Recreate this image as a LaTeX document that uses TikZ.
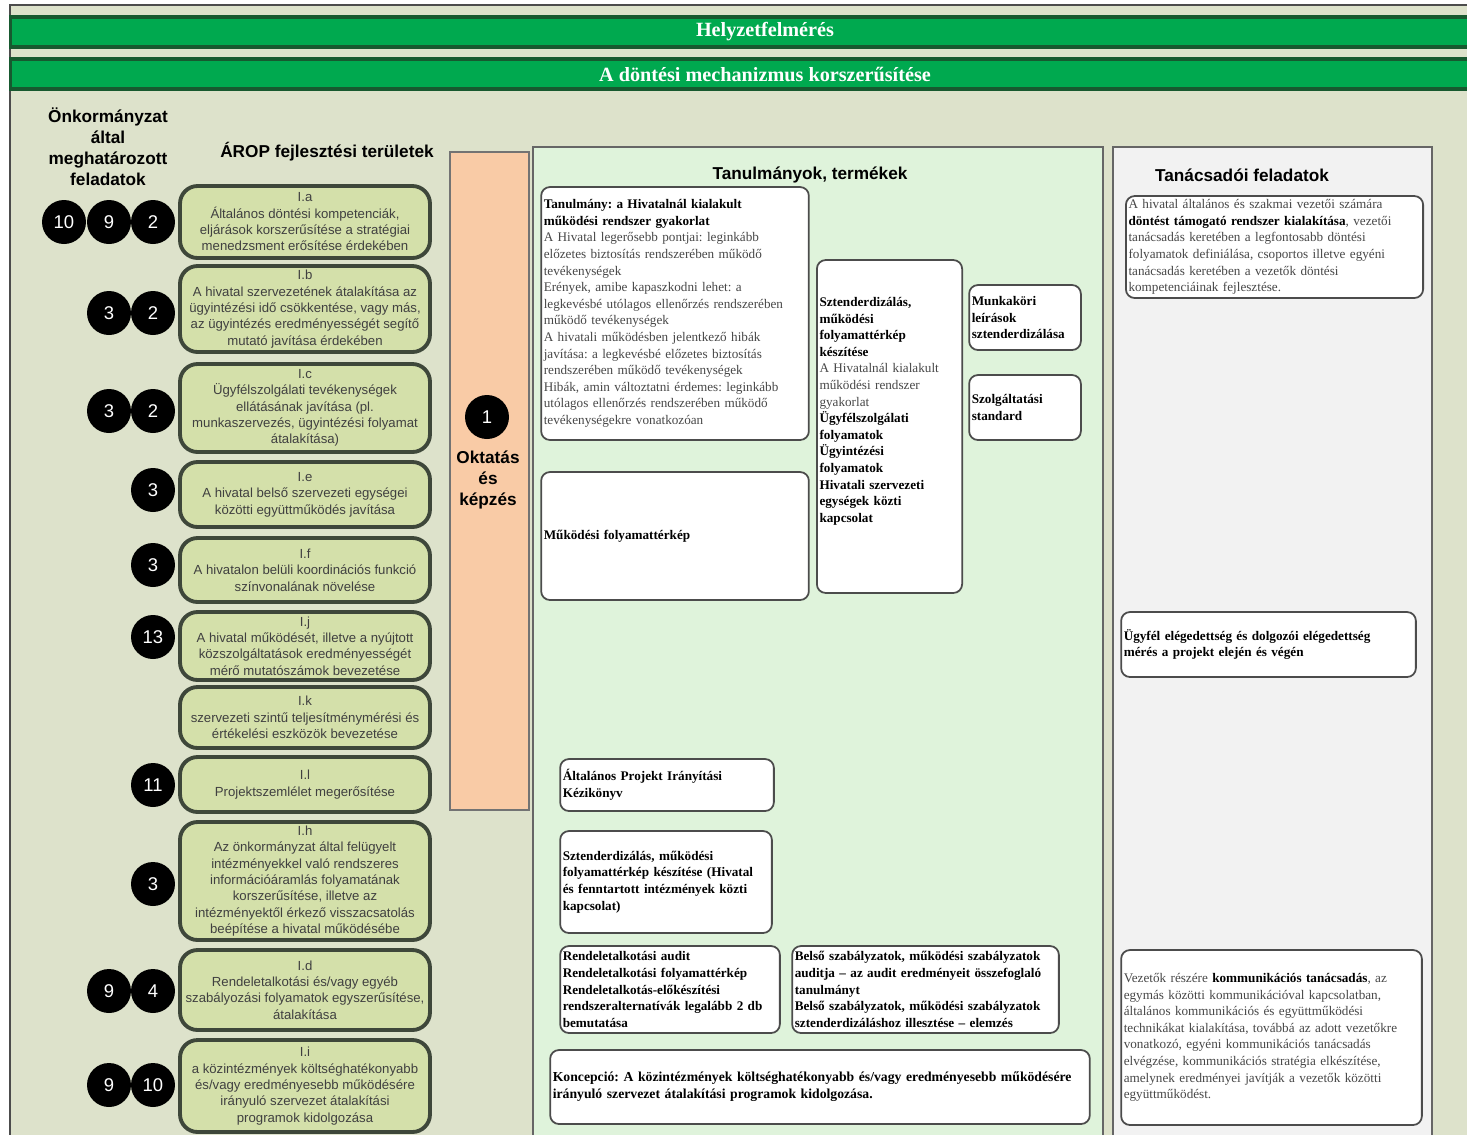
\documentclass[tikz,border=0pt]{standalone}
\usepackage{fontspec}
\setmainfont{Liberation Serif}
\setsansfont{Liberation Sans}
\usepackage{xcolor}
\usepackage{tikz}
\frenchspacing

\definecolor{bgolive}{HTML}{DDE2CB}
\definecolor{bannergreen}{HTML}{00A94F}
\definecolor{bannerline}{HTML}{17592F}
\definecolor{areafill}{HTML}{D4E0AA}
\definecolor{areaedge}{HTML}{3E473A}
\definecolor{peach}{HTML}{F9CBA6}
\definecolor{prodgreen}{HTML}{DFF3DB}
\definecolor{tanacsgrey}{HTML}{F2F2F2}

\newcommand{\kiemel}[1]{{\bfseries\color{black}#1}}

\begin{document}
\begin{tikzpicture}[x=0.02cm, y=-0.02cm]
    % Define styles
    \tikzstyle{banner} = [rectangle, draw=bannerline, line width=1.8pt, fill=bannergreen, text=white, font=\bfseries\fontsize{11.5}{13}\selectfont, minimum width=30.2cm, minimum height=0.6cm, inner sep=0pt]
    \tikzstyle{heading} = [font=\sffamily\bfseries\fontsize{9.8}{11.9}\selectfont, align=center, inner sep=0pt]
    \tikzstyle{area} = [rectangle, rounded corners=10pt, draw=areaedge, line width=2.2pt, fill=areafill, text=black!75, font=\sffamily\fontsize{7.5}{9.3}\selectfont, align=center, minimum width=5cm, inner sep=1pt]
    \tikzstyle{task} = [circle, fill=black, text=white, font=\sffamily\fontsize{10.5}{12}\selectfont, minimum size=0.88cm, inner sep=0pt]
    \tikzstyle{panel} = [rectangle, draw=black!60, line width=1.4pt, inner sep=0pt]
    \tikzstyle{product} = [rectangle, rounded corners=5pt, draw=black!70, line width=1pt, fill=white, text=black!72, font=\fontsize{7.5}{9.45}\selectfont, align=left, inner xsep=1.5pt, inner ysep=0pt]

    \useasboundingbox (0,0) rectangle (1467,1134);

    % Background
    \fill[white] (0,0) rectangle (1467,1134);
    \draw[fill=bgolive, draw=black!70, line width=1pt] (10,5) rectangle (1480,1145);

    % Banners
    \node[banner] (helyzet) at (765,32) {Helyzetfelmérés};
    \node[banner] (dontes) at (765,74) {A döntési mechanizmus korszerűsítése};

    % Column headings
    \node[heading] (onk) at (108,146.5) {Önkormányzat\\által\\meghatározott\\feladatok};
    \node[heading] (arop) at (327,152) {ÁROP fejlesztési területek};

    % AROP development areas
    \node[area, minimum height=1.44cm] (terIa) at (305,222) {I.a\\Általános döntési kompetenciák,\\eljárások korszerűsítése a stratégiai\\menedzsment erősítése érdekében};
    \node[area, minimum height=1.72cm] (terIb) at (305,309) {I.b\\A hivatal szervezetének átalakítása az\\ügyintézési idő csökkentése, vagy más,\\az ügyintézés eredményességét segítő\\mutató javítása érdekében};
    \node[area, minimum height=1.76cm] (terIc) at (305,408) {I.c\\Ügyfélszolgálati tevékenységek\\ellátásának javítása (pl.\\munkaszervezés, ügyintézési folyamat\\átalakítása)};
    \node[area, minimum height=1.3cm] (terIe) at (305,494.5) {I.e\\A hivatal belső szervezeti egységei\\közötti együttműködés javítása};
    \node[area, minimum height=1.28cm] (terIf) at (305,570) {I.f\\A hivatalon belüli koordinációs funkció\\színvonalának növelése};
    \node[area, minimum height=1.36cm] (terIj) at (305,646) {I.j\\A hivatal működését, illetve a nyújtott\\közszolgáltatások eredményességét\\mérő mutatószámok bevezetése};
    \node[area, minimum height=1.22cm] (terIk) at (305,717.5) {I.k\\szervezeti szintű teljesítménymérési és\\értékelési eszközök bevezetése};
    \node[area, minimum height=1.1cm] (terIl) at (305,784.5) {I.l\\Projektszemlélet megerősítése};
    \node[area, minimum height=2.36cm] (terIh) at (305,881) {I.h\\Az önkormányzat által felügyelt\\intézményekkel való rendszeres\\információáramlás folyamatának\\korszerűsítése, illetve az\\intézményektől érkező visszacsatolás\\beépítése a hivatal működésébe};
    \node[area, minimum height=1.6cm] (terId) at (305,990) {I.d\\Rendeletalkotási és/vagy egyéb\\szabályozási folyamatok egyszerűsítése,\\átalakítása};
    \node[area, minimum height=1.84cm] (terIi) at (305,1086) {I.i\\a közintézmények költséghatékonyabb\\és/vagy eredményesebb működésére\\irányuló szervezet átalakítási\\programok kidolgozása};

    % Tasks set by the municipality
    \node[task] (taskIa10) at (64,222) {10};
    \node[task] (taskIa9) at (109,222) {9};
    \node[task] (taskIa2) at (153,222) {2};
    \node[task] (taskIb3) at (109,313) {3};
    \node[task] (taskIb2) at (153,313) {2};
    \node[task] (taskIc3) at (109,411) {3};
    \node[task] (taskIc2) at (153,411) {2};
    \node[task] (taskIe3) at (153,490) {3};
    \node[task] (taskIf3) at (153,565) {3};
    \node[task] (taskIj13) at (153,637) {13};
    \node[task] (taskIl11) at (153,785) {11};
    \node[task] (taskIh3) at (153,884) {3};
    \node[task] (taskId9) at (109,991) {9};
    \node[task] (taskId4) at (153,991) {4};
    \node[task] (taskIi9) at (109,1085) {9};
    \node[task] (taskIi10) at (153,1085) {10};

    % Training column
    \node[panel, fill=peach, draw=black!55, line width=1pt, minimum width=1.58cm, minimum height=13.16cm] (oktcol) at (489.5,481) {};
    \node[task] (okt1) at (487,417) {1};
    \node[heading] (okt) at (488,480) {Oktatás\\és\\képzés};

    % Studies, products
    \node[panel, fill=prodgreen, minimum width=11.4cm, minimum height=19.86cm] (tanpanel) at (818,643.5) {};
    \node[heading] (tanhead) at (810,175) {Tanulmányok, termékek};

    \node[product, minimum width=5.32cm, minimum height=5.06cm, text width=5.25cm] (tanulm) at (675,313.5) {\kiemel{Tanulmány: a Hivatalnál kialakult\\működési rendszer gyakorlat}\\
        A Hivatal legerősebb pontjai: leginkább\\előzetes biztosítás rendszerében működő\\tevékenységek\\
        Erények, amibe kapaszkodni lehet: a\\legkevésbé utólagos ellenőrzés rendszerében\\működő tevékenységek\\
        A hivatali működésben jelentkező hibák\\javítása: a legkevésbé előzetes biztosítás\\rendszerében működő tevékenységek\\
        Hibák, amin változtatni érdemes: leginkább\\utólagos ellenőrzés rendszerében működő\\tevékenységekre vonatkozóan};
    \node[product, minimum width=5.32cm, minimum height=2.56cm, text width=5.25cm] (mukfoly) at (675,536) {\kiemel{Működési folyamattérkép}};
    \node[product, minimum width=2.9cm, minimum height=6.66cm, text width=2.8cm] (sztend) at (889.5,426.5) {\kiemel{Sztenderdizálás,\\működési\\folyamattérkép\\készítése}\\
        A Hivatalnál kialakult\\működési rendszer\\gyakorlat\\
        \kiemel{Ügyfélszolgálati\\folyamatok\\Ügyintézési\\folyamatok\\Hivatali szervezeti\\egységek közti\\kapcsolat}\par\mbox{}\par\mbox{}};
    \node[product, minimum width=2.2cm, minimum height=1.3cm, text width=2.13cm] (munkakor) at (1025,317.5) {\kiemel{Munkaköri\\leírások\\sztenderdizálása}};
    \node[product, minimum width=2.2cm, minimum height=1.3cm, text width=2.13cm] (szolg) at (1025,407.5) {\kiemel{Szolgáltatási\\standard}};
    \node[product, minimum width=4.24cm, minimum height=1.04cm, text width=4.17cm] (projkez) at (667,785) {\kiemel{Általános Projekt Irányítási\\Kézikönyv}};
    \node[product, minimum width=4.2cm, minimum height=2.04cm, text width=4.13cm] (sztendint) at (666,882) {\kiemel{Sztenderdizálás, működési\\folyamattérkép készítése (Hivatal\\és fenntartott intézmények közti\\kapcsolat)}};
    \node[product, minimum width=4.36cm, minimum height=1.74cm, text width=4.29cm] (rendelet) at (670,989.5) {\kiemel{Rendeletalkotási audit\\Rendeletalkotási folyamattérkép\\Rendeletalkotás-előkészítési\\rendszeralternatívák legalább 2 db\\bemutatása}};
    \node[product, minimum width=5.3cm, minimum height=1.74cm, text width=5.23cm] (belso) at (925.5,989.5) {\kiemel{Belső szabályzatok, működési szabályzatok\\auditja – az audit eredményeit összefoglaló\\tanulmányt\\Belső szabályzatok, működési szabályzatok\\sztenderdizáláshoz illesztése – elemzés}};
    \node[product, minimum width=10.76cm, minimum height=1.48cm, text width=10.69cm, font=\fontsize{7.8}{9.6}\selectfont] (koncepcio) at (820,1087) {\kiemel{Koncepció: A közintézmények költséghatékonyabb és/vagy eredményesebb működésére\\irányuló szervezet átalakítási programok kidolgozása.}};

    % Consulting tasks
    \node[panel, fill=tanacsgrey, minimum width=6.38cm, minimum height=19.86cm] (tanacspanel) at (1272.5,643.5) {};
    \node[heading] (tanacshead) at (1242,175) {Tanácsadói feladatok};

    \node[product, minimum width=5.9cm, minimum height=2.04cm, text width=5.84cm] (dontestam) at (1274.5,247) {A hivatal általános és szakmai vezetői számára\\\kiemel{döntést támogató rendszer kialakítása}, vezetői\\tanácsadás keretében a legfontosabb döntési\\folyamatok definiálása, csoportos illetve egyéni\\tanácsadás keretében a vezetők döntési\\kompetenciáinak fejlesztése.};
    \node[product, minimum width=5.86cm, minimum height=1.3cm, text width=5.79cm] (ugyfel) at (1268.5,644.5) {\kiemel{Ügyfél elégedettség és dolgozói elégedettség\\mérés a projekt elején és végén}};
    \node[product, minimum width=5.98cm, minimum height=3.5cm, text width=5.91cm] (vezetok) at (1271.5,1037.5) {Vezetők részére \kiemel{kommunikációs tanácsadás}, az\\egymás közötti kommunikációval kapcsolatban,\\általános kommunikációs és együttműködési\\technikákat kialakítása, továbbá az adott vezetőkre\\vonatkozó, egyéni kommunikációs tanácsadás\\elvégzése, kommunikációs stratégia elkészítése,\\amelynek eredményei javítják a vezetők közötti\\együttműködést.};
\end{tikzpicture}
\end{document}
